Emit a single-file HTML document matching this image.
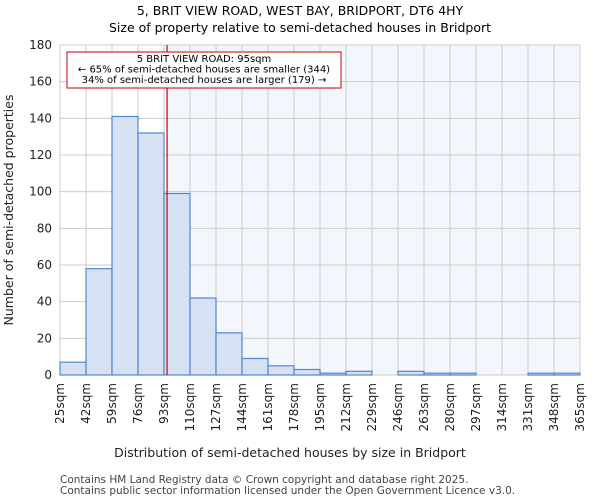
<!DOCTYPE html>
<html><head><meta charset="utf-8"><style>
body{margin:0;background:#fff;font-family:"DejaVu Sans","Liberation Sans",sans-serif}
</style></head><body>
<svg width="600" height="500" xmlns="http://www.w3.org/2000/svg" font-family="DejaVu Sans, Liberation Sans, sans-serif">
<g id="chart"></g>
</svg>
<script>
const binEdges=[25,42,59,76,93,110,127,144,161,178,195,212,229,246,263,280,297,314,331,348,365];
const counts=[7,58,141,132,99,42,23,9,5,3,1,2,0,2,1,1,0,0,1,1];
const yTicks=[0,20,40,60,80,100,120,140,160,180];
const propertySize=95;
const annotation=["5 BRIT VIEW ROAD: 95sqm","← 65% of semi-detached houses are smaller (344)","34% of semi-detached houses are larger (179) →"];
const NS="http://www.w3.org/2000/svg";
const g=document.getElementById('chart');
const L=60,R=580,T=45,B=375;
const x=v=>L+(v-binEdges[0])/(binEdges[binEdges.length-1]-binEdges[0])*(R-L);
const y=v=>B-v/180*(B-T);
function mk(t,a,txt){const e=document.createElementNS(NS,t);for(const k in a)e.setAttribute(k,a[k]);if(txt!==undefined)e.textContent=txt;g.appendChild(e);return e;}
let e;
e=mk('rect',{x:L,y:T,width:R-L,height:B-T,fill:'#ffffff'});


e=mk('rect',{x:x(propertySize),y:T,width:R-x(propertySize),height:B-T,fill:'#f3f6fd'});


binEdges.forEach(v=>{e=mk('line',{x1:x(v),x2:x(v),y1:T,y2:B,stroke:'#cccccc','stroke-width':1});

});
yTicks.forEach(v=>{e=mk('line',{x1:L,x2:R,y1:y(v),y2:y(v),stroke:'#cccccc','stroke-width':1});


e=mk('text',{x:L-8,y:y(v)+4,'text-anchor':'end','font-size':12,fill:'#222'},v);

});
counts.forEach((c,i)=>{if(c<=0)return;const x0=x(binEdges[i]),x1=x(binEdges[i+1]);
e=mk('rect',{x:x0,y:y(c),width:x1-x0,height:B-y(c),fill:'#d6e2f3',stroke:'#4f87d3','stroke-width':1.2});

});
binEdges.forEach(v=>{const tx=x(v)+4;
e=mk('text',{x:tx,y:B+8,'font-size':12,fill:'#222',transform:`rotate(-90 ${tx} ${B+8})`,'text-anchor':'end'},v+'sqm');

});
e=mk('line',{x1:x(propertySize),x2:x(propertySize),y1:T,y2:B,stroke:'#cc0000','stroke-width':1.2});


e=mk('rect',{x:67,y:52,width:274,height:36,fill:'#fff',stroke:'#cc0000','stroke-width':1});


annotation.forEach((t,i)=>{e=mk('text',{x:204,y:62+i*10.5,'text-anchor':'middle','font-size':10,fill:'#000'},t);

});
e=mk('text',{x:300,y:15,'text-anchor':'middle','font-size':12.5,fill:'#000'},'5, BRIT VIEW ROAD, WEST BAY, BRIDPORT, DT6 4HY');


e=mk('text',{x:300,y:32,'text-anchor':'middle','font-size':12.5,fill:'#000'},'Size of property relative to semi-detached houses in Bridport');


e=mk('text',{x:290,y:457,'text-anchor':'middle','font-size':12.5,fill:'#222'},'Distribution of semi-detached houses by size in Bridport');


e=mk('text',{x:13,y:210,'text-anchor':'middle','font-size':12.5,fill:'#222',transform:'rotate(-90 13 210)'},'Number of semi-detached properties');


e=mk('text',{x:60,y:483,'font-size':10.5,fill:'#444'},'Contains HM Land Registry data © Crown copyright and database right 2025.');


e=mk('text',{x:60,y:494,'font-size':10.5,fill:'#444'},'Contains public sector information licensed under the Open Government Licence v3.0.');


</script>
</body></html>
